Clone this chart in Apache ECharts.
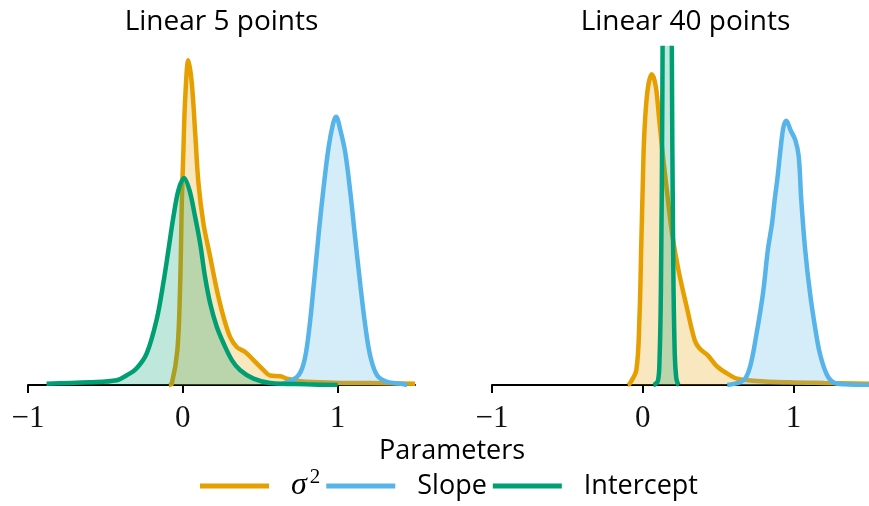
<!DOCTYPE html>
<html>
<head>
<meta charset="utf-8">
<script src="https://cdn.jsdelivr.net/npm/echarts@6/dist/echarts.min.js"></script>
<style>
  html, body { margin: 0; padding: 0; background: #fff; }
  #chart { width: 869px; height: 506px; }
</style>
</head>
<body>
<div id="chart"></div>
<script>
// Posterior density estimates, [parameter value, density]
const sigma2Five = [[-0.09,0],[-0.071,0.02],[-0.035,0.52],[-0.017,1.5],[-0.006,2.74],[0.004,3.49],[0.015,4.23],[0.036,4.82],[0.058,4.48],[0.08,3.74],[0.101,3.0],[0.133,2.4],[0.177,1.9],[0.22,1.41],[0.263,1.01],[0.306,0.71],[0.35,0.56],[0.403,0.49],[0.457,0.37],[0.522,0.22],[0.565,0.14],[0.63,0.13],[0.673,0.095],[0.76,0.055],[0.97,0.035],[1.2,0.03],[1.5,0.02]];
const slopeFive = [[0.63,0.01],[0.738,0.12],[0.781,0.32],[0.813,0.76],[0.845,1.46],[0.878,2.25],[0.91,2.94],[0.942,3.53],[0.971,3.88],[0.99,3.98],[1.018,3.78],[1.05,3.44],[1.083,2.84],[1.115,2.15],[1.148,1.46],[1.18,0.86],[1.212,0.42],[1.256,0.14],[1.32,0.045],[1.41,0.02],[1.45,0.0]];
const interceptFive = [[-0.88,0.02],[-0.6,0.04],[-0.427,0.07],[-0.362,0.144],[-0.298,0.25],[-0.233,0.47],[-0.168,0.98],[-0.126,1.51],[-0.093,2.0],[-0.061,2.49],[-0.028,2.89],[0.008,3.07],[0.043,2.89],[0.08,2.49],[0.112,2.1],[0.144,1.6],[0.177,1.21],[0.22,0.86],[0.263,0.62],[0.317,0.37],[0.371,0.22],[0.457,0.095],[0.565,0.03],[0.8,0.01],[1.0,0.0]];

const sigma2Forty = [[-0.1,0],[-0.087,0.02],[-0.043,0.22],[-0.022,1.01],[-0.011,2.0],[0.0,2.99],[0.01,3.73],[0.032,4.38],[0.06,4.61],[0.086,4.43],[0.107,3.98],[0.129,3.49],[0.162,2.84],[0.194,2.25],[0.237,1.7],[0.291,1.16],[0.345,0.66],[0.377,0.54],[0.431,0.44],[0.495,0.27],[0.582,0.14],[0.625,0.095],[0.754,0.06],[0.97,0.04],[1.2,0.03],[1.5,0.02]];
const slopeForty = [[0.56,0],[0.668,0.07],[0.711,0.27],[0.754,0.76],[0.797,1.36],[0.829,2.0],[0.857,2.4],[0.873,2.72],[0.894,3.09],[0.915,3.53],[0.933,3.83],[0.952,3.92],[0.98,3.78],[1.012,3.63],[1.034,3.39],[1.051,2.74],[1.077,2.0],[1.109,1.36],[1.142,0.86],[1.174,0.47],[1.217,0.17],[1.26,0.045],[1.336,0.01],[1.5,0]];
const interceptForty = [[0.07,0],[0.08,0.01],[0.1,0.06],[0.11,0.3],[0.12,1.4],[0.13,4.4],[0.14,10],[0.15,16],[0.162,20],[0.172,17.5],[0.182,11],[0.192,5.2],[0.202,1.8],[0.212,0.45],[0.222,0.1],[0.232,0.02],[0.24,0]];

const panelTitles = ['Linear 5 points', 'Linear 40 points'];
const axisName = 'Parameters';
const seriesNames = ['σ²', 'Slope', 'Intercept'];
const seriesColors = ['#E69F00', '#56B4E9', '#009E73'];
const tickValues = [-1, 0, 1];
const xRange = [-1, 1.5];
const densityMax = 5;

const panels = [
  [sigma2Five, slopeFive, interceptFive],
  [sigma2Forty, slopeForty, interceptForty]
];

const sansFont = 'Open Sans';
const serifFont = 'Liberation Serif';

const grids = [
  { left: 28, top: 48, width: 387, height: 337 },
  { left: 492, top: 48, width: 387, height: 337 }
];

const xAxes = grids.map((g, i) => ({
  type: 'value', gridIndex: i, min: xRange[0], max: xRange[1], interval: 1,
  axisLine: { show: true, onZero: false, lineStyle: { color: '#000', width: 2 } },
  axisTick: { show: true, length: 8, customValues: tickValues, lineStyle: { color: '#000', width: 2 } },
  axisLabel: {
    customValues: tickValues, margin: 18, color: '#111',
    fontFamily: serifFont, fontSize: 31,
    formatter: v => (v < 0 ? '\u2212' + Math.abs(v) : String(v))
  },
  splitLine: { show: false }
}));

const yAxes = grids.map((g, i) => ({
  type: 'value', gridIndex: i, min: 0, max: densityMax, show: false,
  splitLine: { show: false }
}));

const series = [];
panels.forEach((sets, p) => {
  sets.forEach((data, k) => {
    series.push({
      type: 'line', name: seriesNames[k], xAxisIndex: p, yAxisIndex: p,
      data: data, smooth: 0.35, showSymbol: false, symbol: 'none', clip: true,
      lineStyle: { color: seriesColors[k], width: 4.5 },
      itemStyle: { color: seriesColors[k] },
      areaStyle: { color: seriesColors[k], opacity: 0.25 },
      z: 2 + k
    });
  });
});

const chart = echarts.init(document.getElementById('chart'), null, { renderer: 'canvas' });
chart.setOption({
  animation: false,
  backgroundColor: '#fff',
  grid: grids,
  xAxis: xAxes,
  yAxis: yAxes,
  series: series,
  legend: {
    data: seriesNames.map(n => ({ name: n, icon: 'rect' })),
    left: 200, top: 467, padding: 0,
    itemWidth: 69, itemHeight: 5, itemGap: 6,
    selectedMode: false,
    formatter: name => (name === 'σ²' ? '{s|σ}{p|2}' : name),
    textStyle: {
      fontFamily: sansFont, fontSize: 27, color: '#000', padding: [0, 0, 0, 17],
      rich: {
        s: { fontFamily: serifFont, fontStyle: 'italic', fontSize: 32, color: '#000' },
        p: { fontFamily: serifFont, fontSize: 21, color: '#000', padding: [0, 4, 17, 3] }
      }
    }
  },
  graphic: [
    { type: 'text', x: 28 + 387 / 2, y: 22, style: { text: panelTitles[0], textAlign: 'center', textVerticalAlign: 'middle', fontFamily: sansFont, fontSize: 28, fill: '#000' } },
    { type: 'text', x: 492 + 387 / 2, y: 22, style: { text: panelTitles[1], textAlign: 'center', textVerticalAlign: 'middle', fontFamily: sansFont, fontSize: 28, fill: '#000' } },
    { type: 'text', x: 452, y: 451, style: { text: axisName, textAlign: 'center', textVerticalAlign: 'middle', fontFamily: sansFont, fontSize: 27, fill: '#000' } }
  ]
});
</script>
</body>
</html>
